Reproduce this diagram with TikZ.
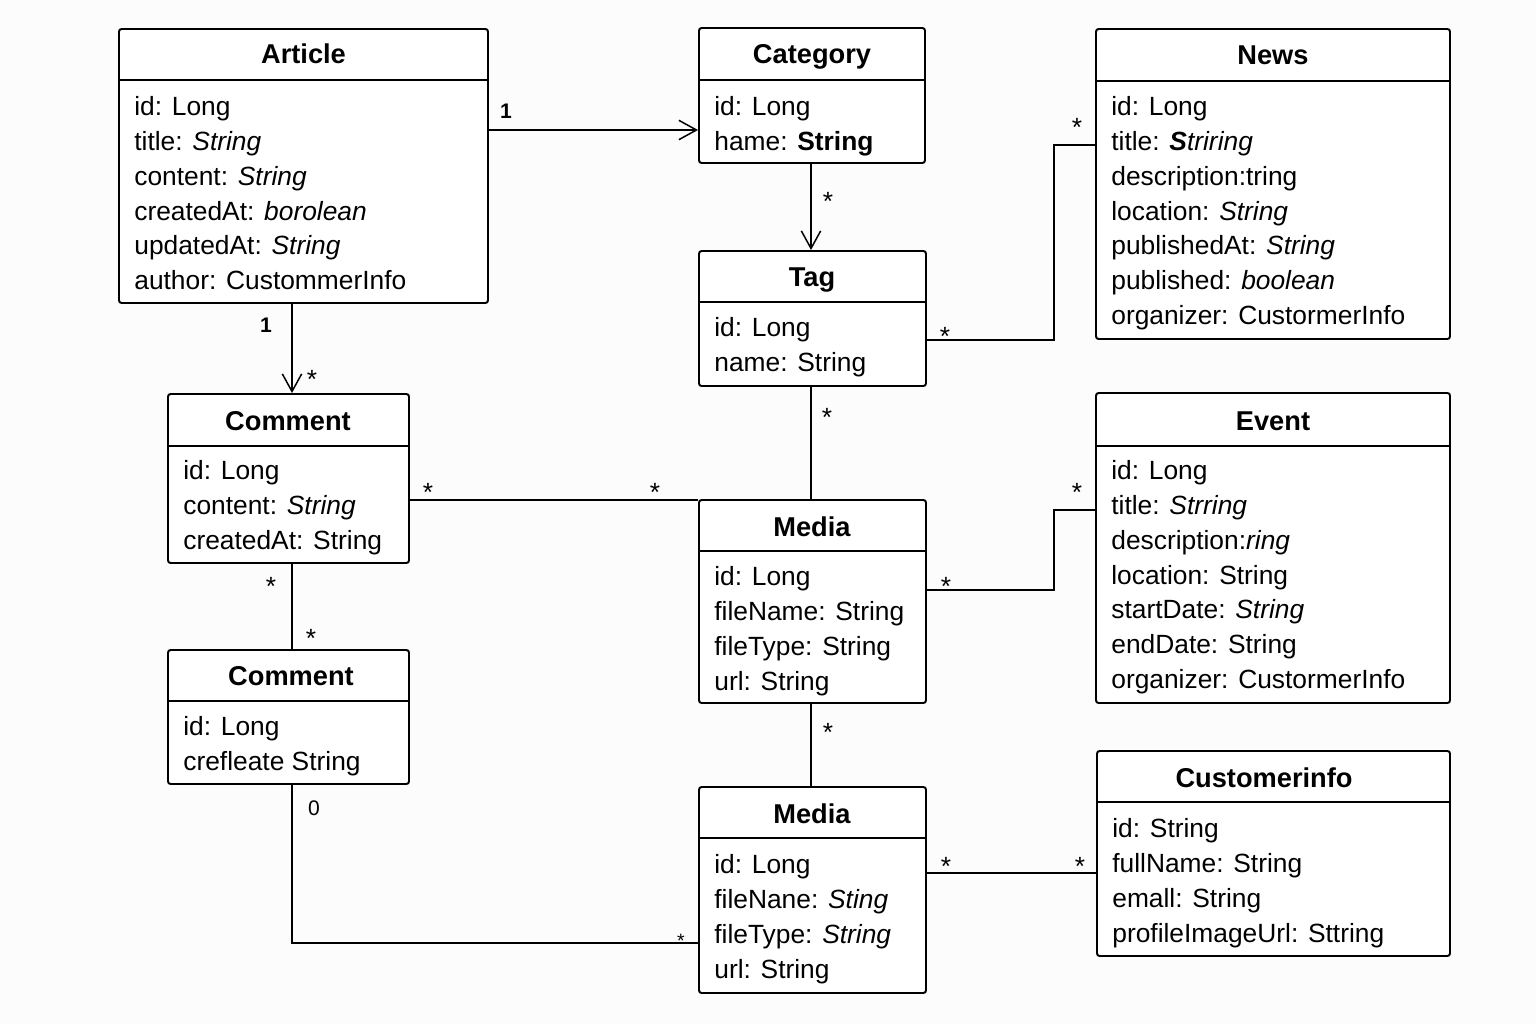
\documentclass[tikz,border=0pt]{standalone}
\usepackage{fontspec}
\setmainfont{Liberation Sans}
\usetikzlibrary{arrows.meta,fit}
\tikzset{
  classbox/.style={draw=black, line width=1.1pt, rounded corners=1.5pt, fill=white, inner sep=0pt},
  classname/.style={anchor=base, inner sep=0pt, font=\fontsize{15.5}{19.85}\selectfont\bfseries},
  attrs/.style={anchor=north west, inner sep=0pt, align=left, font=\fontsize{15}{19.85}\selectfont},
  sepline/.style={line width=0.9pt},
  assoc/.style={line width=0.85pt},
  navig/.style={assoc, -{Straight Barb[length=10pt,width=11pt]}},
  mult/.style={anchor=base, inner sep=0pt, font=\fontsize{15}{17}\selectfont},
}
\begin{document}
\begin{tikzpicture}[x=0.02cm, y=-0.02cm]
\fill[gray!2] (0,0) rectangle (1536,1024);
% classes: box, name, line under name, attributes
\node[classbox, fit={(119,29) (488,303)}] (article) {};
\node[classname] (articleT) at (303.5,64) {Article};
\draw[sepline] (119,80) -- (488,80);
\node[attrs] (articleA) at (134,96) {id: Long\\ title: \textit{String}\\ content: \textit{String}\\ createdAt: \textit{borolean}\\ updatedAt: \textit{String}\\ author: CustommerInfo};

\node[classbox, fit={(699,28) (925,163)}] (category) {};
\node[classname] (categoryT) at (812,64) {Category};
\draw[sepline] (699,80) -- (925,80);
\node[attrs] (categoryA) at (714,96) {id: Long\\ hame: \textbf{String}};

\node[classbox, fit={(1096,29) (1450,339)}] (news) {};
\node[classname] (newsT) at (1273,65) {News};
\draw[sepline] (1096,81) -- (1450,81);
\node[attrs] (newsA) at (1111,96) {id: Long\\ title: \textbf{\textit{S}}\textit{triring}\\ description:tring\\ location: \textit{String}\\ publishedAt: \textit{String}\\ published: \textit{boolean}\\ organizer: CustormerInfo};

\node[classbox, fit={(699,251) (926,386)}] (tag) {};
\node[classname] (tagT) at (812,286) {Tag};
\draw[sepline] (699,302) -- (926,302);
\node[attrs] (tagA) at (714,317) {id: Long\\ name: String};

\node[classbox, fit={(168,394) (409,563)}] (comment) {};
\node[classname] (commentT) at (288,430) {Comment};
\draw[sepline] (168,446) -- (409,446);
\node[attrs] (commentA) at (183,460) {id: Long\\ content: \textit{String}\\ createdAt: String};

\node[classbox, fit={(699,500) (926,703)}] (media) {};
\node[classname] (mediaT) at (812,536) {Media};
\draw[sepline] (699,551) -- (926,551);
\node[attrs] (mediaA) at (714,566) {id: Long\\ fileName: String\\ fileType: String\\ url: String};

\node[classbox, fit={(1096,393) (1450,703)}] (event) {};
\node[classname] (eventT) at (1273,430) {Event};
\draw[sepline] (1096,446) -- (1450,446);
\node[attrs] (eventA) at (1111,460) {id: Long\\ title: \textit{Strring}\\ description:\textit{ring}\\ location: String\\ startDate: \textit{String}\\ endDate: String\\ organizer: CustormerInfo};

\node[classbox, fit={(168,650) (409,784)}] (comment2) {};
\node[classname] (comment2T) at (291,685) {Comment};
\draw[sepline] (168,701) -- (409,701);
\node[attrs] (comment2A) at (183,716) {id: Long\\ crefleate String};

\node[classbox, fit={(699,787) (926,993)}] (media2) {};
\node[classname] (media2T) at (812,823) {Media};
\draw[sepline] (699,838) -- (926,838);
\node[attrs] (media2A) at (714,854) {id: Long\\ fileNane: \textit{Sting}\\ fileType: \textit{String}\\ url: String};

\node[classbox, fit={(1097,751) (1450,956)}] (custinfo) {};
\node[classname] (custinfoT) at (1264,787) {Customerinfo};
\draw[sepline] (1097,802) -- (1450,802);
\node[attrs] (custinfoA) at (1112,818) {id: String\\ fullName: String\\ emall: String\\ profileImageUrl: Sttring};

% associations
\draw[navig] (article.east |- 0,130) -- (category.west |- 0,130);
\draw[navig] (category.south -| 811,0) -- (tag.north -| 811,0);
\draw[assoc] (tag.east |- 0,340) -| (1054,242) |- (news.west |- 0,145);
\draw[navig] (article.south -| 292,0) -- (comment.north -| 292,0);
\draw[assoc] (comment.east |- 0,500) -- (media.west |- 0,500);
\draw[assoc] (tag.south -| 811,0) -- (media.north -| 811,0);
\draw[assoc] (media.east |- 0,590) -| (1054,550) |- (event.west |- 0,510);
\draw[assoc] (comment.south -| 292,0) -- (comment2.north -| 292,0);
\draw[assoc] (media.south -| 811,0) -- (media2.north -| 811,0);
\draw[assoc] (comment2.south -| 292,0) |- (media2.west |- 0,943);
\draw[assoc] (media2.east |- 0,873) -- (custinfo.west |- 0,873);

% multiplicities
\node[mult, font=\fontsize{12}{14}\selectfont\bfseries] (m1) at (506,119) {1};
\node[mult] (m2) at (828,211) {*};
\node[mult] (m3) at (945,345) {*};
\node[mult] (m4) at (1077,137) {*};
\node[mult, font=\fontsize{12}{14}\selectfont\bfseries] (m5) at (266,332) {1};
\node[mult] (m6) at (312,388) {*};
\node[mult] (m7) at (428,501) {*};
\node[mult] (m8) at (655,501) {*};
\node[mult] (m9) at (827,426) {*};
\node[mult] (m10) at (946,595) {*};
\node[mult] (m11) at (1077,501) {*};
\node[mult] (m12) at (271,595) {*};
\node[mult] (m13) at (311,647) {*};
\node[mult] (m14) at (828,741) {*};
\node[mult, font=\fontsize{12}{14}\selectfont] (m15) at (314,815) {0};
\node[mult, font=\fontsize{11}{13}\selectfont] (m16) at (681,947) {*};
\node[mult] (m17) at (946,875) {*};
\node[mult] (m18) at (1080,875) {*};
\end{tikzpicture}
\end{document}
